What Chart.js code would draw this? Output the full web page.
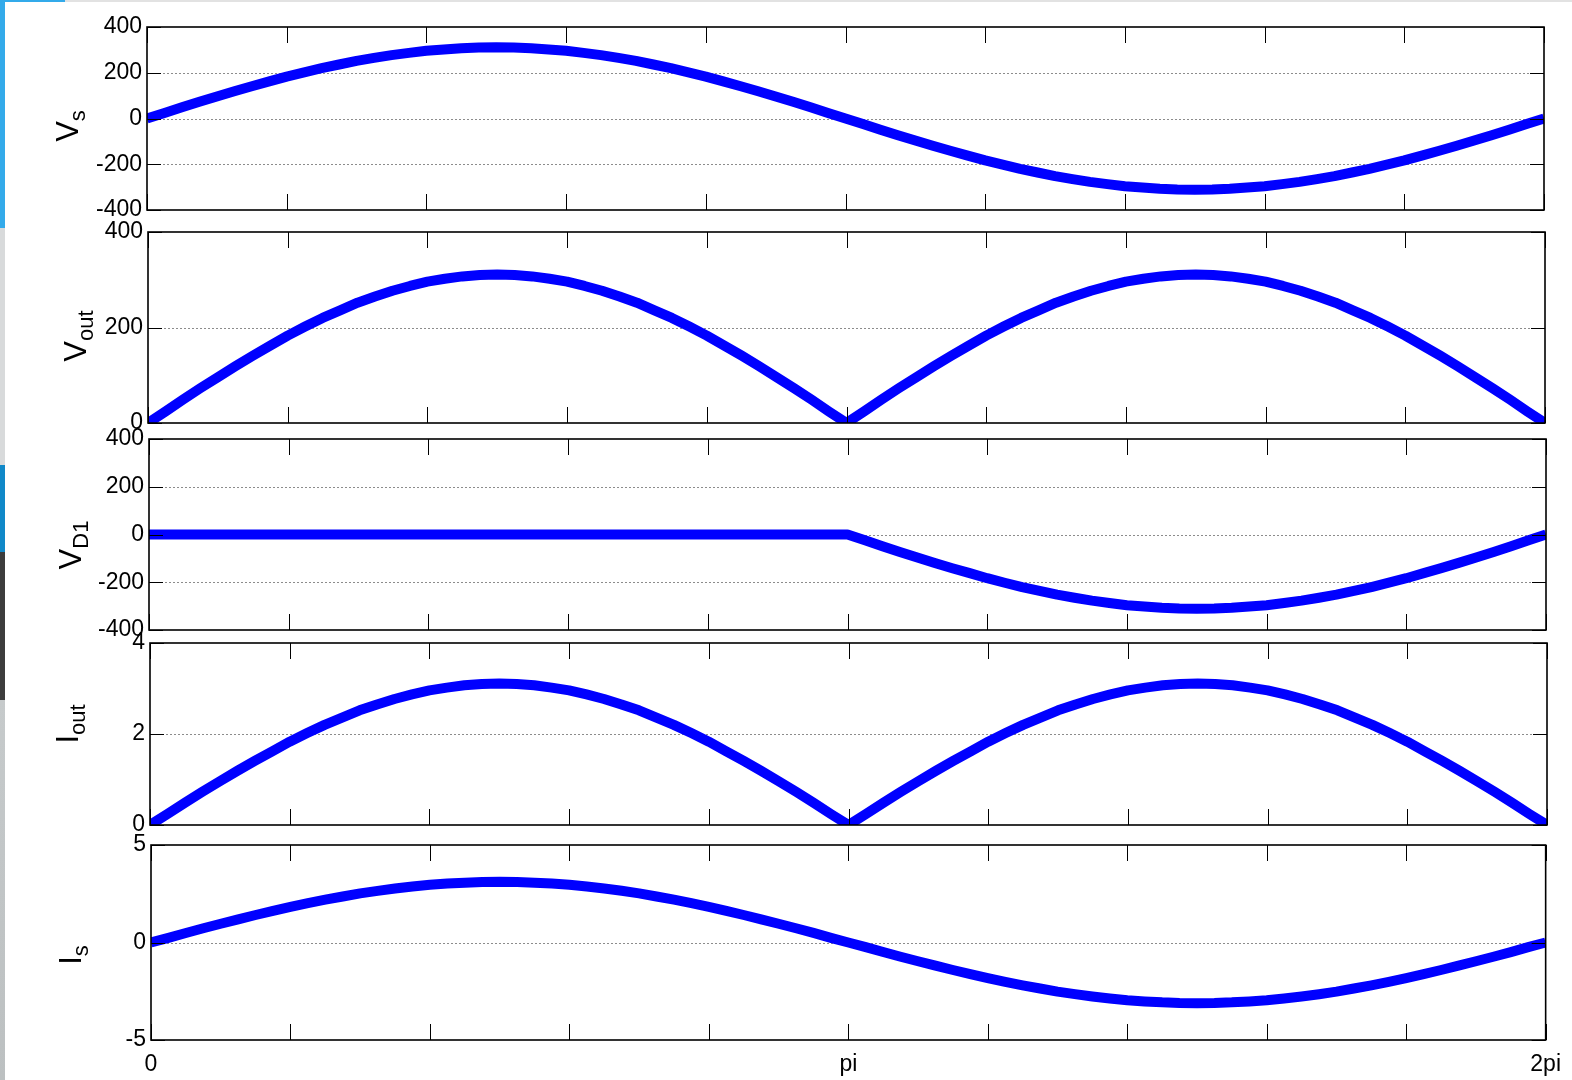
<!DOCTYPE html>
<html><head><meta charset="utf-8">
<script src="https://cdn.jsdelivr.net/npm/chart.js@4.4.1/dist/chart.umd.min.js"></script>
<style>
html,body{margin:0;padding:0;background:#fff;}
#wrap{position:relative;width:1572px;height:1080px;overflow:hidden;background:#fff;}
canvas{position:absolute;left:0;top:0;}
#stripL{position:absolute;left:0;top:0;width:5px;height:1080px;
 background:linear-gradient(to bottom,#33aaea 0px,#33aaea 228px,#d8dadb 228px,#d8dadb 465px,#1088c8 465px,#1088c8 552px,#3c3c3c 552px,#3c3c3c 700px,#c6cacb 700px,#bcc0c1 1080px);}
#stripT1{position:absolute;left:0;top:0;width:65px;height:2px;background:#33aaea;}
#stripT2{position:absolute;left:65px;top:0;width:1507px;height:2px;background:#e2e2e2;}
.ylab{position:absolute;font-family:'Liberation Sans',Arial,sans-serif;font-size:31px;line-height:31px;white-space:nowrap;color:#000;transform:translate(-50%,-50%) rotate(-90deg);}
.ylab sub{font-size:22px;vertical-align:-7px;line-height:0;}
</style></head>
<body>
<div id="wrap">
<div id="stripL"></div><div id="stripT1"></div><div id="stripT2"></div>
<canvas id="c1" width="1572" height="1080"></canvas>
<canvas id="c2" width="1572" height="1080"></canvas>
<canvas id="c3" width="1572" height="1080"></canvas>
<canvas id="c4" width="1572" height="1080"></canvas>
<canvas id="c5" width="1572" height="1080"></canvas>
<div class="ylab" style="left:67px;top:126px;">V<sub>s</sub></div>
<div class="ylab" style="left:75px;top:336px;">V<sub>out</sub></div>
<div class="ylab" style="left:70px;top:545px;">V<sub>D1</sub></div>
<div class="ylab" style="left:67px;top:724px;">I<sub>out</sub></div>
<div class="ylab" style="left:70px;top:955px;">I<sub>s</sub></div>
</div>
<script>
// phase angle in units of pi
const phase = [0,0.025,0.05,0.075,0.1,0.125,0.15,0.175,0.2,0.225,0.25,0.275,0.3,0.325,0.35,0.375,0.4,0.425,0.45,0.475,
  0.5,0.525,0.55,0.575,0.6,0.625,0.65,0.675,0.7,0.725,0.75,0.775,0.8,0.825,0.85,0.875,0.9,0.925,0.95,0.975,
  1,1.025,1.05,1.075,1.1,1.125,1.15,1.175,1.2,1.225,1.25,1.275,1.3,1.325,1.35,1.375,1.4,1.425,1.45,1.475,
  1.5,1.525,1.55,1.575,1.6,1.625,1.65,1.675,1.7,1.725,1.75,1.775,1.8,1.825,1.85,1.875,1.9,1.925,1.95,1.975,2];
const vs = [0,24,49,73,96,119,141,162,183,202,220,236,252,265,277,287,296,302,307,310,
  311,310,307,302,296,287,277,265,252,236,220,202,183,162,141,119,96,73,49,24,
  0,-24,-49,-73,-96,-119,-141,-162,-183,-202,-220,-236,-252,-265,-277,-287,-296,-302,-307,-310,
  -311,-310,-307,-302,-296,-287,-277,-265,-252,-236,-220,-202,-183,-162,-141,-119,-96,-73,-49,-24,0];
const vout = [0,24,49,73,96,119,141,162,183,202,220,236,252,265,277,287,296,302,307,310,
  311,310,307,302,296,287,277,265,252,236,220,202,183,162,141,119,96,73,49,24,
  0,24,49,73,96,119,141,162,183,202,220,236,252,265,277,287,296,302,307,310,
  311,310,307,302,296,287,277,265,252,236,220,202,183,162,141,119,96,73,49,24,0];
const vd1 = [0,0,0,0,0,0,0,0,0,0,0,0,0,0,0,0,0,0,0,0,
  0,0,0,0,0,0,0,0,0,0,0,0,0,0,0,0,0,0,0,0,
  0,-24,-49,-73,-96,-119,-141,-162,-183,-202,-220,-236,-252,-265,-277,-287,-296,-302,-307,-310,
  -311,-310,-307,-302,-296,-287,-277,-265,-252,-236,-220,-202,-183,-162,-141,-119,-96,-73,-49,-24,0];
const iout = [0,0.24,0.49,0.73,0.96,1.19,1.41,1.62,1.83,2.02,2.20,2.36,2.52,2.65,2.77,2.87,2.96,3.02,3.07,3.10,
  3.11,3.10,3.07,3.02,2.96,2.87,2.77,2.65,2.52,2.36,2.20,2.02,1.83,1.62,1.41,1.19,0.96,0.73,0.49,0.24,
  0,0.24,0.49,0.73,0.96,1.19,1.41,1.62,1.83,2.02,2.20,2.36,2.52,2.65,2.77,2.87,2.96,3.02,3.07,3.10,
  3.11,3.10,3.07,3.02,2.96,2.87,2.77,2.65,2.52,2.36,2.20,2.02,1.83,1.62,1.41,1.19,0.96,0.73,0.49,0.24,0];
const is = [0,0.24,0.49,0.73,0.96,1.19,1.41,1.62,1.83,2.02,2.20,2.36,2.52,2.65,2.77,2.87,2.96,3.02,3.07,3.10,
  3.11,3.10,3.07,3.02,2.96,2.87,2.77,2.65,2.52,2.36,2.20,2.02,1.83,1.62,1.41,1.19,0.96,0.73,0.49,0.24,
  0,-0.24,-0.49,-0.73,-0.96,-1.19,-1.41,-1.62,-1.83,-2.02,-2.20,-2.36,-2.52,-2.65,-2.77,-2.87,-2.96,-3.02,-3.07,-3.10,
  -3.11,-3.10,-3.07,-3.02,-2.96,-2.87,-2.77,-2.65,-2.52,-2.36,-2.20,-2.02,-1.83,-1.62,-1.41,-1.19,-0.96,-0.73,-0.49,-0.24,0];

const xTickValues = [0,0.2,0.4,0.6,0.8,1,1.2,1.4,1.6,1.8,2];
const xLabelValues = [0,1,2];
const xLabelTexts = ['0','pi','2pi'];
const vsTicks = [-400,-200,0,200,400];
const voutTicks = [0,200,400];
const vd1Ticks = [-400,-200,0,200,400];
const ioutTicks = [0,2,4];
const isTicks = [-5,0,5];

// panel boxes (pixels)
const panels = [
  {id:'c1', data:vs,   ticks:vsTicks,   box:{left:147,right:1544,top:27, bottom:210}, showX:false},
  {id:'c2', data:vout, ticks:voutTicks, box:{left:148,right:1545,top:232,bottom:423}, showX:false},
  {id:'c3', data:vd1,  ticks:vd1Ticks,  box:{left:149,right:1546,top:439,bottom:630}, showX:false},
  {id:'c4', data:iout, ticks:ioutTicks, box:{left:150,right:1547,top:643,bottom:825}, showX:false},
  {id:'c5', data:is,   ticks:isTicks,   box:{left:151,right:1548,top:845,bottom:1040}, showX:true}
];

const tickFont = {family:"'Liberation Sans', Arial, sans-serif", size:23};
const X_AXIS_H = 40;

const framePlugin = {
  id:'frame',
  beforeDatasetsDraw(chart){
    const ctx = chart.ctx, a = chart.chartArea, y = chart.scales.y;
    ctx.save();
    ctx.strokeStyle = '#8c8c8c'; ctx.lineWidth = 1; ctx.setLineDash([2,2]);
    y.ticks.forEach(t=>{
      if (t.value === y.min || t.value === y.max) return;
      const py = Math.round(y.getPixelForValue(t.value)) + 0.5;
      ctx.beginPath(); ctx.moveTo(a.left, py); ctx.lineTo(a.right, py); ctx.stroke();
    });
    ctx.restore();
  },
  afterDatasetsDraw(chart){
    const ctx = chart.ctx, a = chart.chartArea, y = chart.scales.y, x = chart.scales.x;
    ctx.save();
    ctx.strokeStyle = '#000'; ctx.lineWidth = 1; ctx.setLineDash([]);
    y.ticks.forEach(t=>{
      const py = Math.round(y.getPixelForValue(t.value)) + 0.5;
      ctx.beginPath(); ctx.moveTo(a.left, py); ctx.lineTo(a.left + 14, py); ctx.stroke();
      ctx.beginPath(); ctx.moveTo(a.right, py); ctx.lineTo(a.right - 14, py); ctx.stroke();
    });
    xTickValues.forEach(v=>{
      const px = Math.round(x.getPixelForValue(v)) + 0.5;
      ctx.beginPath(); ctx.moveTo(px, a.top); ctx.lineTo(px, a.top + 16); ctx.stroke();
      ctx.beginPath(); ctx.moveTo(px, a.bottom); ctx.lineTo(px, a.bottom - 16); ctx.stroke();
    });
    ctx.lineWidth = 1.6;
    ctx.strokeRect(a.left, a.top, a.right - a.left, a.bottom - a.top);
    ctx.restore();
  }
};

panels.forEach(p=>{
  const xh = p.showX ? X_AXIS_H : 0;
  new Chart(document.getElementById(p.id), {
    type:'line',
    data:{datasets:[{
      data: phase.map((x,i)=>({x:x, y:p.data[i]})),
      borderColor:'#0000ff', borderWidth:10, pointRadius:0, fill:false, tension:0,
      borderJoinStyle:'round', borderCapStyle:'butt', clip:0
    }]},
    options:{
      responsive:false, animation:false, events:[],
      layout:{padding:{left:0, right:1572 - p.box.right, top:p.box.top, bottom:1080 - p.box.bottom - xh}},
      plugins:{legend:{display:false}, tooltip:{enabled:false}},
      scales:{
        x:{type:'linear', min:0, max:2, position:'bottom',
           grid:{display:false, drawTicks:false}, border:{display:false},
           ticks:{display:p.showX, autoSkip:false, maxRotation:0, minRotation:0, padding:11, font:tickFont, color:'#000',
             callback:(v)=>{const i = xLabelValues.indexOf(v); return i>=0 ? xLabelTexts[i] : '';}},
           afterBuildTicks:(s)=>{s.ticks = xTickValues.map(v=>({value:v}));},
           afterFit:(s)=>{s.height = xh;}},
        y:{type:'linear', min:p.ticks[0], max:p.ticks[p.ticks.length-1], position:'left',
           grid:{display:false, drawTicks:false}, border:{display:false},
           ticks:{autoSkip:false, padding:5, font:tickFont, color:'#000'},
           afterBuildTicks:(s)=>{s.ticks = p.ticks.map(v=>({value:v}));},
           afterFit:(s)=>{s.width = p.box.left;}}
      }
    },
    plugins:[framePlugin]
  });
});
</script>
</body></html>
